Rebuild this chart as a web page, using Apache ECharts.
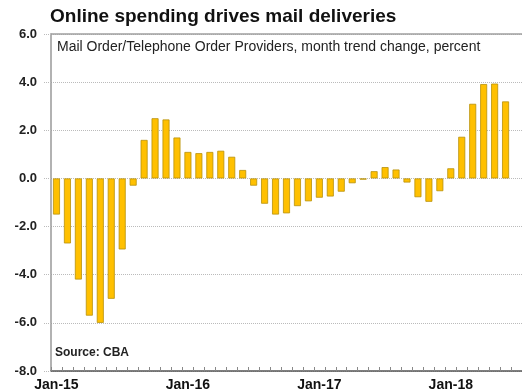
<!DOCTYPE html>
<html>
<head>
<meta charset="utf-8">
<script src="https://cdn.jsdelivr.net/npm/echarts@6/dist/echarts.min.js"></script>
<style>
  html, body { margin: 0; padding: 0; background: #fff; }
  #chart { width: 522px; height: 392px; }
</style>
</head>
<body>
<div id="chart"></div>
<script>
// Monthly categories, Jan-15 to Jul-18
const months = [
  'Jan-15','Feb-15','Mar-15','Apr-15','May-15','Jun-15','Jul-15','Aug-15','Sep-15','Oct-15','Nov-15','Dec-15',
  'Jan-16','Feb-16','Mar-16','Apr-16','May-16','Jun-16','Jul-16','Aug-16','Sep-16','Oct-16','Nov-16','Dec-16',
  'Jan-17','Feb-17','Mar-17','Apr-17','May-17','Jun-17','Jul-17','Aug-17','Sep-17','Oct-17','Nov-17','Dec-17',
  'Jan-18','Feb-18','Mar-18','Apr-18','May-18','Jun-18','Jul-18'
];

// Month trend change, percent (no reading yet for Jul-18)
const trendChange = [
  -1.5, -2.7, -4.2, -5.7, -6.0, -5.0, -2.95, -0.3, 1.6, 2.5, 2.45, 1.7,
  1.1, 1.05, 1.1, 1.15, 0.9, 0.35, -0.3, -1.05, -1.5, -1.45, -1.15, -0.95,
  -0.8, -0.75, -0.55, -0.2, -0.05, 0.3, 0.47, 0.37, -0.17, -0.78, -0.97, -0.53,
  0.42, 1.73, 3.1, 3.92, 3.94, 3.2, null
];

const yTicks = { min: -8, max: 6, step: 2 };

const FONT = '"Liberation Sans", Arial, sans-serif';

const chart = echarts.init(document.getElementById('chart'), null, { renderer: 'canvas' });

chart.setOption({
  backgroundColor: '#ffffff',
  animation: false,
  title: [
    {
      text: 'Online spending drives mail deliveries',
      left: 50, top: 7, padding: 0,
      textStyle: { fontFamily: FONT, fontSize: 19, fontWeight: 'bold', color: '#111' }
    },
    {
      text: 'Mail Order/Telephone Order Providers, month trend change, percent',
      left: 57, top: 40, padding: 0,
      textStyle: { fontFamily: FONT, fontSize: 14, fontWeight: 'normal', color: '#222' }
    },
    {
      text: 'Source: CBA',
      left: 55, top: 347, padding: 0,
      textStyle: { fontFamily: FONT, fontSize: 12, fontWeight: 'bold', color: '#222' }
    }
  ],
  grid: {
    left: 51, right: 0, top: 34, bottom: 21,
    show: false
  },
  xAxis: [
    {
      type: 'category',
      data: months,
      position: 'bottom',
      axisLine: { onZero: false, lineStyle: { color: '#555', width: 1.5 } },
      axisTick: { show: true, inside: true, length: 4, interval: 0, lineStyle: { color: '#888' } },
      axisLabel: {
        interval: 11,
        margin: 7,
        fontFamily: FONT, fontSize: 14, fontWeight: 'bold', color: '#111'
      },
      splitLine: { show: false }
    },
    {
      // frame line along the top of the plot
      type: 'category',
      data: months,
      position: 'top',
      axisLine: { show: true, onZero: false, lineStyle: { color: '#a0a0a0', width: 1.5 } },
      axisTick: { show: false },
      axisLabel: { show: false },
      splitLine: { show: false }
    }
  ],
  yAxis: {
    type: 'value',
    min: yTicks.min, max: yTicks.max, interval: yTicks.step,
    axisLine: { show: true, lineStyle: { color: '#999', width: 1.5 } },
    axisTick: { show: true, length: 7, lineStyle: { color: '#bbb', type: 'dotted' } },
    axisLabel: {
      margin: 14,
      formatter: v => v.toFixed(1),
      fontFamily: FONT, fontSize: 13, fontWeight: 'bold', color: '#222'
    },
    splitLine: { show: true, lineStyle: { color: '#bbb', type: 'dotted', width: 1 } }
  },
  series: [{
    type: 'bar',
    data: trendChange,
    xAxisIndex: 0,
    barWidth: 7,
    itemStyle: { color: '#FFC000', borderColor: '#B8900A', borderWidth: 0.8 }
  }]
});
</script>
</body>
</html>
